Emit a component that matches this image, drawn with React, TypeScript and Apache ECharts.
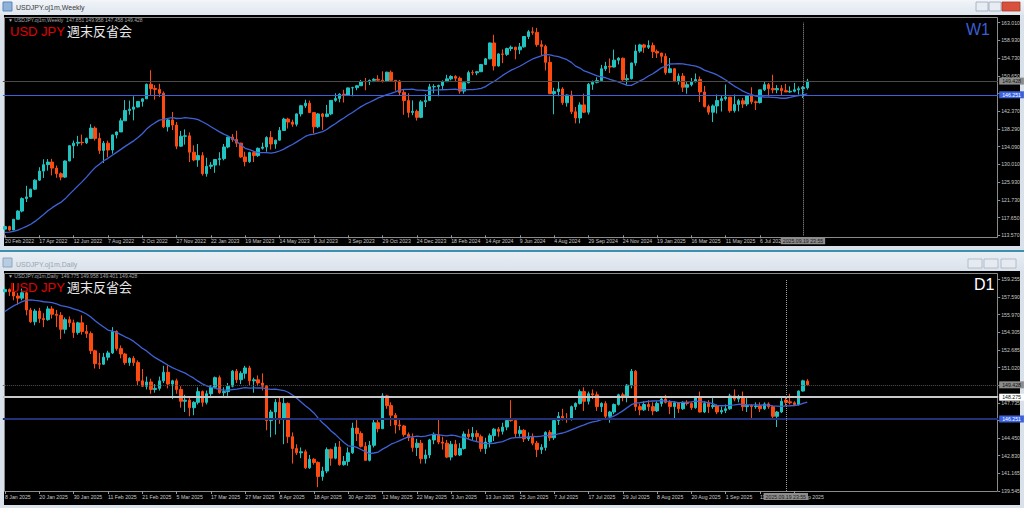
import React, { useEffect, useRef } from "react";
import * as echarts from "echarts";

// ---------- DATA ----------
// Weekly USDJPY candles [open, high, low, close], from week of 20 Feb 2022
const weeklyOHLC: number[][] = [
  [115.0,115.8,114.4,115.6],[115.6,115.8,114.65,114.8],[114.8,117.3,114.8,117.3],[117.3,119.4,117.3,119.2],
  [119.2,122.4,118.9,122.1],[122.1,125.1,121.3,122.5],[122.5,124.4,122.4,124.3],[124.3,126.6,124.1,126.4],
  [126.4,129.4,126.2,128.5],[128.5,131.25,126.9,130.0],[130.0,131.3,128.6,130.6],[130.6,131.35,127.5,129.2],
  [129.2,129.8,126.95,127.9],[127.9,128.2,126.35,127.1],[127.1,131.0,126.9,130.85],[130.85,134.55,130.8,134.4],
  [134.4,135.6,131.5,135.0],[135.0,136.7,134.3,135.2],[135.2,137.0,134.5,135.1],[135.1,136.3,134.8,136.1],
  [136.1,139.4,136.0,138.5],[138.5,138.9,135.6,136.1],[136.1,137.4,132.5,133.3],[133.3,135.5,130.4,135.0],
  [135.0,135.6,131.7,133.4],[133.4,137.0,132.55,136.9],[136.9,137.7,136.1,137.6],[137.6,140.8,137.6,140.2],
  [140.2,145.0,140.2,142.6],[142.6,144.9,141.6,142.9],[142.9,145.9,140.3,143.4],[143.4,144.8,143.3,144.7],
  [144.7,145.4,143.5,145.3],[145.3,148.85,145.3,148.7],[148.7,151.95,146.2,147.7],[147.7,148.5,145.1,147.5],
  [147.5,148.8,145.7,146.6],[146.6,147.0,138.5,138.8],[138.8,140.8,137.7,140.4],[140.4,142.25,138.05,139.2],
  [139.2,139.9,133.6,134.3],[134.3,137.85,134.1,136.6],[136.6,138.2,134.65,136.7],[136.7,137.5,130.6,132.9],
  [132.9,134.5,130.8,131.1],[131.1,134.8,129.5,132.1],[132.1,132.9,127.45,127.9],[127.9,131.6,127.2,129.6],
  [129.6,130.6,129.0,129.9],[129.9,131.2,128.1,131.2],[131.2,132.9,129.8,131.4],[131.4,134.8,131.0,134.1],
  [134.1,136.5,133.8,136.4],[136.4,137.1,135.3,135.85],[135.85,137.9,134.1,135.0],[135.0,135.1,131.6,131.8],
  [131.8,133.0,129.6,130.7],[130.7,133.0,130.4,132.8],[132.8,133.2,130.6,132.1],[132.1,134.0,131.8,133.8],
  [133.8,135.1,133.5,134.1],[134.1,136.6,133.0,136.3],[136.3,137.8,133.5,134.8],[134.8,135.8,133.7,135.7],
  [135.7,138.75,135.6,137.95],[137.95,140.9,137.9,140.6],[140.6,140.9,138.4,139.9],[139.9,140.45,138.8,139.4],
  [139.4,141.9,138.9,141.8],[141.8,143.9,141.2,143.7],[143.7,145.1,143.2,144.3],[144.3,144.9,142.0,142.1],
  [142.1,142.2,137.25,138.8],[138.8,142.0,138.5,141.8],[141.8,142.0,138.1,141.2],[141.2,143.9,141.0,141.8],
  [141.8,145.0,141.5,144.95],[144.95,146.6,144.6,145.4],[145.4,146.6,144.5,146.4],[146.4,147.4,144.45,146.2],
  [146.2,147.9,146.1,147.85],[147.85,148.1,145.9,147.9],[147.9,148.5,147.3,148.35],[148.35,149.7,148.3,149.35],
  [149.35,150.16,147.3,149.3],[149.3,149.8,148.5,149.6],[149.6,150.1,149.2,149.85],[149.85,150.78,149.3,149.65],
  [149.65,151.7,149.1,149.4],[149.4,151.6,149.2,151.5],[151.5,151.9,149.2,149.6],[149.6,149.7,147.2,149.45],
  [149.45,149.7,146.2,146.8],[146.8,147.5,141.6,144.9],[144.9,146.6,140.95,142.15],[142.15,144.95,141.5,142.4],
  [142.4,142.8,140.25,141.0],[141.0,145.0,140.8,144.6],[144.6,146.4,143.4,144.9],[144.9,148.8,144.9,148.1],
  [148.1,148.7,146.6,148.15],[148.15,148.6,145.9,148.4],[148.4,149.6,147.6,149.3],[149.3,150.9,149.2,149.95],
  [149.95,150.8,149.6,150.5],[150.5,150.8,149.2,150.1],[150.1,150.5,146.5,147.1],[147.1,149.2,146.5,149.05],
  [149.05,151.85,148.9,151.4],[151.4,151.97,150.8,151.35],[151.35,151.8,150.8,151.6],[151.6,153.4,151.6,153.3],
  [153.3,154.8,153.3,154.6],[154.6,158.4,154.5,158.3],[158.3,160.2,151.9,152.95],[152.95,155.9,152.8,155.75],
  [155.75,156.8,153.6,155.65],[155.65,157.2,155.3,157.0],[157.0,157.7,156.4,157.3],[157.3,157.4,154.5,156.7],
  [156.7,158.3,155.7,157.4],[157.4,159.9,157.2,159.8],[159.8,161.3,159.2,160.9],[160.9,161.95,160.2,160.75],
  [160.75,161.8,157.4,157.9],[157.9,158.9,155.4,157.5],[157.5,157.9,151.9,153.8],[153.8,155.2,146.4,146.5],
  [146.5,147.9,141.7,147.0],[147.0,149.4,145.9,147.6],[147.6,148.0,143.9,144.4],[144.4,146.3,143.5,146.2],
  [146.2,147.2,141.75,142.3],[142.3,143.4,139.6,140.85],[140.85,144.5,139.6,143.9],[143.9,146.5,142.0,142.2],
  [142.2,149.0,141.65,148.7],[148.7,149.55,147.4,149.15],[149.15,150.3,148.9,149.55],[149.55,153.2,149.5,152.3],
  [152.3,153.9,151.8,152.9],[152.9,154.7,151.3,152.7],[152.7,156.75,152.6,154.3],[154.3,155.0,153.3,154.75],
  [154.75,154.9,149.5,149.75],[149.75,151.0,148.6,150.0],[150.0,153.7,149.8,153.65],[153.65,157.9,153.0,156.4],
  [156.4,158.1,156.0,157.85],[157.85,158.1,156.0,157.3],[157.3,158.9,156.9,157.7],[157.7,158.4,154.8,156.3],
  [156.3,156.75,154.8,155.95],[155.95,156.0,153.7,155.2],[155.2,155.9,150.9,151.4],[151.4,154.8,151.3,152.3],
  [152.3,152.4,149.3,149.3],[149.3,151.2,148.6,150.6],[150.6,151.3,146.9,148.0],[148.0,149.2,146.5,148.6],
  [148.6,150.15,148.2,149.3],[149.3,151.2,149.1,149.8],[149.8,150.5,144.55,146.9],[146.9,148.3,143.3,143.5],
  [143.5,143.95,141.6,142.2],[142.2,144.0,139.9,143.65],[143.65,146.3,141.9,144.9],[144.9,146.2,142.35,145.35],
  [145.35,148.65,144.9,145.7],[145.7,145.7,142.1,142.55],[142.55,146.3,142.1,144.0],[144.0,145.3,142.4,144.85],
  [144.85,145.5,143.2,144.1],[144.1,146.2,143.6,146.1],[146.1,148.0,144.05,144.6],[144.6,144.9,142.7,144.45],
  [144.45,147.4,144.2,147.4],[147.4,149.2,147.1,148.6],[148.6,149.0,145.85,147.7],[147.7,150.9,146.6,147.4],
  [147.4,148.5,146.6,147.7],[147.7,148.5,146.2,147.2],[147.2,148.8,146.9,146.9],[146.9,148.2,146.7,147.05],
  [147.05,149.0,146.8,147.4],[147.4,148.2,146.3,147.65],[147.65,148.3,145.5,147.95],[147.851,149.958,147.458,149.428],
];
// 19 weekly closes before the first visible week (MA warm-up)
const weeklyPriorCloses = [114.2,113.5,113.5,113.4,114.0,114.0,113.4,112.8,113.4,113.7,114.4,115.1,115.6,114.2,113.7,115.25,115.2,115.45,115.0];
const weeklyMAPeriod = 20;

// Daily USDJPY candles [open, high, low, close], from 8 Jan 2025
const dailyOHLC: number[][] = [
  [158.1,158.55,157.8,158.3],[158.3,158.4,157.7,158.1],[158.1,158.9,157.3,157.7],[157.7,158.0,156.9,157.5],
  [157.5,158.4,157.3,158.0],[158.0,158.1,155.9,156.4],[156.4,156.6,155.2,155.3],[155.3,156.5,154.97,156.3],
  [156.3,156.6,155.2,155.6],[155.6,156.1,154.8,155.5],[155.5,156.75,155.4,156.5],[156.5,156.75,155.6,156.0],
  [156.0,156.4,154.8,155.9],[155.9,156.2,153.7,154.6],[154.6,155.7,154.2,155.5],[155.5,155.8,154.8,155.2],
  [155.2,155.5,153.8,154.3],[154.3,155.3,154.1,155.2],[155.2,155.9,154.1,154.4],[154.4,155.0,153.8,154.2],
  [154.2,154.4,152.3,152.6],[152.6,152.7,150.95,151.4],[151.4,152.4,150.9,151.35],[151.35,152.4,151.3,152.0],
  [152.0,152.6,151.7,152.4],[152.4,154.8,152.3,154.4],[154.4,154.5,152.6,152.8],[152.8,153.1,151.9,152.3],
  [152.3,152.4,151.3,151.5],[151.5,152.0,151.2,151.9],[151.9,152.1,151.2,151.5],[151.5,151.7,149.4,149.8],
  [149.8,150.9,149.25,149.3],[149.3,150.2,149.0,149.7],[149.7,150.0,148.6,149.0],[149.0,149.5,148.7,149.1],
  [149.1,150.2,148.9,149.8],[149.8,151.2,149.6,150.6],[150.6,151.3,149.1,149.5],[149.5,149.9,148.1,149.8],
  [149.8,150.0,148.6,149.0],[149.0,149.3,147.3,147.9],[147.9,148.5,146.9,148.0],[148.0,148.2,146.5,147.3],
  [147.3,147.9,146.6,147.8],[147.8,149.2,147.6,148.8],[148.8,148.9,147.4,147.8],[147.8,148.9,147.6,148.6],
  [148.6,149.4,148.2,149.2],[149.2,150.2,149.1,150.1],[150.1,150.3,148.6,148.7],[148.7,149.2,148.2,148.8],
  [148.8,149.6,148.4,149.3],[149.3,150.8,149.2,150.7],[150.7,150.9,149.6,149.9],[149.9,150.7,149.5,150.5],
  [150.5,151.2,150.0,151.0],[151.0,151.2,149.4,149.8],[149.8,150.1,148.7,149.9],[149.9,150.3,149.3,149.6],
  [149.6,150.5,148.9,149.3],[149.3,149.4,145.2,146.1],[146.1,147.1,144.55,146.9],[146.9,148.1,144.8,147.8],
  [147.8,148.3,145.8,146.3],[146.3,148.3,143.9,147.7],[147.7,147.8,144.0,144.6],[144.6,145.0,142.1,143.5],
  [143.5,143.9,142.9,143.1],[143.1,143.6,142.6,143.2],[143.2,143.4,141.6,141.7],[141.7,142.9,141.6,142.5],
  [142.5,142.6,142.0,142.2],[142.2,142.3,139.9,140.9],[140.9,141.8,140.5,141.4],[141.4,143.6,141.2,143.4],
  [143.4,143.5,141.9,142.6],[142.6,144.0,142.5,143.65],[143.65,144.2,141.9,142.0],[142.0,142.8,141.9,142.3],
  [142.3,143.6,141.9,143.1],[143.1,145.9,143.0,145.4],[145.4,146.3,144.2,144.9],[144.9,145.1,143.6,143.7],
  [143.7,144.1,142.35,142.4],[142.4,144.2,142.3,143.8],[143.8,146.2,143.6,145.9],[145.9,146.2,145.0,145.35],
  [145.35,148.65,145.3,148.4],[148.4,148.5,147.2,147.5],[147.5,147.8,145.6,146.6],[146.6,146.8,144.9,145.7],
  [145.7,146.2,145.2,145.6],[145.6,145.7,144.6,144.8],[144.8,145.0,144.2,144.5],[144.5,144.9,143.2,143.6],
  [143.6,144.4,142.8,144.0],[144.0,144.3,142.1,142.55],[142.55,143.4,142.1,142.9],[142.9,144.4,142.6,144.3],
  [144.3,145.0,143.9,144.8],[144.8,146.3,143.9,144.1],[144.1,144.6,143.4,144.0],[144.0,144.3,142.6,142.7],
  [142.7,144.2,142.4,143.9],[143.9,144.3,142.8,142.9],[142.9,144.0,142.8,143.5],[143.5,145.1,143.4,144.85],
  [144.85,145.3,144.4,144.6],[144.6,145.5,144.3,144.9],[144.9,145.2,144.2,144.6],[144.6,144.8,143.2,143.5],
  [143.5,144.5,143.0,144.1],[144.1,144.9,143.6,144.7],[144.7,145.4,144.2,145.3],[145.3,145.5,144.6,145.1],
  [145.1,145.9,144.8,145.5],[145.5,146.2,145.2,146.1],[146.2,148.0,146.0,146.1],[146.1,146.2,144.5,144.9],
  [144.9,145.6,144.6,145.2],[145.2,145.3,144.1,144.4],[144.4,145.0,144.2,144.6],[144.6,144.9,143.8,144.0],
  [144.0,144.2,142.7,143.4],[143.4,143.9,143.0,143.6],[143.6,145.1,143.3,145.0],[145.0,145.2,144.2,144.5],
  [144.5,146.2,144.3,146.1],[146.1,146.9,145.7,146.5],[146.5,147.2,146.1,146.3],[146.3,146.8,145.9,146.2],
  [146.2,147.5,146.1,147.4],[147.4,147.8,147.1,147.7],[147.7,149.0,147.6,148.8],[148.8,149.2,147.0,147.9],
  [147.9,148.8,147.6,148.6],[148.6,149.0,148.1,148.5],[148.5,148.8,147.0,147.4],[147.4,147.8,146.9,147.7],
  [147.7,147.9,146.2,146.5],[146.5,147.0,145.9,146.9],[146.9,147.7,146.7,147.6],[147.6,148.6,147.5,148.5],
  [148.5,148.7,147.9,148.4],[148.4,149.5,147.8,149.4],[149.4,150.9,149.1,150.7],[150.7,150.8,147.0,147.4],
  [147.4,147.7,146.6,147.1],[147.1,147.9,147.0,147.6],[147.6,148.0,147.0,147.4],[147.4,147.8,146.6,147.0],
  [147.0,147.9,146.9,147.7],[147.7,148.2,147.4,148.1],[148.1,148.5,147.7,147.8],[147.8,148.0,146.7,147.4],
  [147.4,147.9,146.3,147.75],[147.75,147.8,146.8,147.2],[147.2,147.9,147.1,147.8],[147.8,148.0,147.5,147.7],
  [147.7,147.8,147.1,147.3],[147.3,148.4,147.2,148.3],[148.3,148.8,146.85,146.9],[146.9,147.9,146.8,147.7],
  [147.7,148.0,146.8,147.4],[147.4,148.2,147.2,147.5],[147.5,147.6,146.7,146.9],[146.9,147.4,146.7,147.05],
  [147.05,147.6,146.8,147.2],[147.2,148.6,147.1,148.4],[148.4,149.0,147.9,148.1],[148.1,148.5,147.8,148.2],
  [148.2,148.8,147.0,147.4],[147.4,148.2,146.9,147.5],[147.5,147.6,146.3,147.4],[147.4,147.8,147.2,147.45],
  [147.45,147.8,146.9,147.2],[147.2,147.8,147.1,147.65],[147.65,147.8,147.2,147.4],[147.4,147.5,146.3,146.5],
  [146.5,147.0,145.5,146.9],[146.9,148.3,146.8,147.9],[148.0,148.3,147.5,147.8],[147.85,148.6,147.6,147.75],
  [147.75,147.9,147.5,147.6],[147.6,148.9,147.5,148.85],[148.85,149.9,148.8,149.8],[149.775,149.958,149.401,149.428],
];
// 19 daily closes before 8 Jan 2025 (MA warm-up)
const dailyPriorCloses = [152.5,152.6,153.65,154.15,153.5,154.7,157.4,156.4,157.2,157.2,157.1,157.85,157.9,156.9,157.2,157.3,157.45,157.65,158.05];
const dailyMAPeriod = 20;

const weeklyTickLabels = ["20 Feb 2022","17 Apr 2022","12 Jun 2022","7 Aug 2022","2 Oct 2022","27 Nov 2022","22 Jan 2023","19 Mar 2023","14 May 2023","9 Jul 2023","3 Sep 2023","29 Oct 2023","24 Dec 2023","18 Feb 2024","14 Apr 2024","9 Jun 2024","4 Aug 2024","29 Sep 2024","24 Nov 2024","19 Jan 2025","16 Mar 2025","11 May 2025","6 Jul 2025"];
const dailyTickLabels = ["8 Jan 2025","20 Jan 2025","30 Jan 2025","11 Feb 2025","21 Feb 2025","5 Mar 2025","17 Mar 2025","27 Mar 2025","8 Apr 2025","18 Apr 2025","30 Apr 2025","12 May 2025","22 May 2025","3 Jun 2025","13 Jun 2025","25 Jun 2025","7 Jul 2025","17 Jul 2025","29 Jul 2025","8 Aug 2025","20 Aug 2025","1 Sep 2025","11 Sep 2025","23 Sep 2025"];

// price scale labels, bottom to top
const weeklyPriceTicks = ["113.570","117.650","121.730","125.930","130.010","134.090","138.290","142.370","146.450","150.650","154.730","158.930","163.010"];
const dailyPriceTicks = ["139.545","141.165","142.830","144.450","146.070","147.735","149.400","151.020","152.685","154.305","155.970","157.590","159.255"];
const weeklyRange = [113.57, 163.01];
const dailyRange = [139.545, 159.255];

const bidPrice = 149.428;
const levelPrice = 146.251;
const dailyLevel2 = 148.275;
const weeklyVLineIndex = 186;
const dailyVLineIndex = 182;
const vLineLabel = "2025.09.19 23:55";
const weeklyHeader = "147.851 149.958 147.458 149.428";
const dailyHeader = "149.775 149.958 149.401 149.428";

const SLOTS = 232;

// ---------- helpers ----------
function sma(prior: number[], closes: number[], period: number) {
  const all = prior.concat(closes);
  const off = prior.length;
  return closes.map((_, i) => {
    const end = off + i;
    let s = 0;
    for (let k = end - period + 1; k <= end; k++) s += all[k];
    return +(s / period).toFixed(3);
  });
}

const BULL = "#1fc3c0";
const BEAR = "#ff4a0f";
const MA = "#3f62d8";
const FONT = "'Liberation Sans', Arial, sans-serif";
const AXFS = 5.2;

export default function App() {
  const ref = useRef<HTMLDivElement>(null);
  useEffect(() => {
    if (!ref.current) return;
    const chart = echarts.init(ref.current, undefined, { renderer: "svg" });
    const slots = Array.from({ length: SLOTS }, (_, i) => String(i));
    const wMA = sma(weeklyPriorCloses, weeklyOHLC.map((r) => r[3]), weeklyMAPeriod);
    const dMA = sma(dailyPriorCloses, dailyOHLC.map((r) => r[3]), dailyMAPeriod);

    const xAxisFor = (grid: number, labels: string[]) => ({
      type: "category",
      gridIndex: grid,
      data: slots,
      boundaryGap: true,
      axisLine: { show: false },
      axisTick: {
        show: true,
        alignWithLabel: true,
        interval: (i: number) => i % 8 === 0 && i / 8 < labels.length,
        length: 3,
        lineStyle: { color: "#9a9a9a" },
      },
      axisLabel: {
        interval: (i: number) => i % 8 === 0 && i / 8 < labels.length,
        formatter: (_v: string, i: number) => labels[i / 8] ?? "",
        align: "left",
        margin: 3,
        fontSize: AXFS,
        color: "#c8c8c8",
        fontFamily: FONT,
      },
      splitLine: { show: false },
    });

    const priceAxis = (grid: number, range: number[]) => ({
      type: "value",
      gridIndex: grid,
      min: range[0],
      max: range[1],
      show: false,
      scale: true,
    });
    const labelAxis = (grid: number, ticks: string[]) => ({
      type: "value",
      gridIndex: grid,
      position: "right",
      min: 0,
      max: ticks.length - 1,
      interval: 1,
      axisLine: { show: false },
      axisTick: { show: true, length: 2, lineStyle: { color: "#9a9a9a" } },
      splitLine: { show: false },
      axisLabel: {
        formatter: (v: number) => ticks[Math.round(v)] ?? "",
        margin: 3,
        fontSize: AXFS,
        color: "#c8c8c8",
        fontFamily: FONT,
      },
    });

    const boxLabel = (price: number, bg: string, fg: string) => ({
      show: true,
      position: "end",
      distance: 1,
      formatter: () => price.toFixed(3),
      backgroundColor: bg,
      color: fg,
      fontSize: AXFS,
      fontFamily: FONT,
      padding: [1, 3, 1, 3],
    });
    const vLabel = {
      show: true,
      position: "start",
      distance: 2,
      formatter: () => vLineLabel,
      backgroundColor: "#8c8c8c",
      color: "#1a1a1a",
      fontSize: AXFS,
      fontFamily: FONT,
      padding: [1, 2, 1, 2],
    };

    const candleStyle = {
      color: BULL,
      color0: BEAR,
      borderColor: BULL,
      borderColor0: BEAR,
      borderWidth: 1,
    };

    const option: any = {
      animation: false,
      backgroundColor: "#d9e1ea",
      grid: [
        { left: 2.86, width: 995.3, top: 22.7, height: 212.6, show: false },
        { left: 2.86, width: 995.3, top: 279.3, height: 211.7, show: false },
      ],
      xAxis: [xAxisFor(0, weeklyTickLabels), xAxisFor(1, dailyTickLabels)],
      yAxis: [
        priceAxis(0, weeklyRange),
        priceAxis(1, dailyRange),
        labelAxis(0, weeklyPriceTicks),
        labelAxis(1, dailyPriceTicks),
      ],
      series: [
        {
          type: "candlestick",
          xAxisIndex: 0,
          yAxisIndex: 0,
          barWidth: 3,
          data: weeklyOHLC.map(([o, h, l, c]) => [o, c, l, h]),
          itemStyle: candleStyle,
          z: 3,
          markLine: {
            silent: true,
            symbol: ["none", "none"],
            animation: false,
            data: [
              { yAxis: bidPrice, lineStyle: { color: "#4a4a4a", type: "solid", width: 1 }, label: boxLabel(bidPrice, "#8c8c8c", "#111") },
              { yAxis: levelPrice, lineStyle: { color: "#3b62dc", type: "solid", width: 1 }, label: boxLabel(levelPrice, "#3b62dc", "#ffffff") },
              { xAxis: String(weeklyVLineIndex), lineStyle: { color: "#a0a0a0", type: "dotted", width: 1 }, label: vLabel },
            ],
          },
        },
        {
          type: "line",
          xAxisIndex: 0,
          yAxisIndex: 0,
          data: wMA,
          showSymbol: false,
          lineStyle: { color: MA, width: 1.3 },
          z: 4,
        },
        {
          type: "candlestick",
          xAxisIndex: 1,
          yAxisIndex: 1,
          barWidth: 3,
          data: dailyOHLC.map(([o, h, l, c]) => [o, c, l, h]),
          itemStyle: candleStyle,
          z: 3,
          markLine: {
            silent: true,
            symbol: ["none", "none"],
            animation: false,
            data: [
              { yAxis: bidPrice, lineStyle: { color: "#505050", type: "dotted", width: 1 }, label: boxLabel(bidPrice, "#8c8c8c", "#111") },
              { yAxis: dailyLevel2, lineStyle: { color: "#c8c8c8", type: "solid", width: 2 }, label: boxLabel(dailyLevel2, "#ffffff", "#111") },
              { yAxis: levelPrice, lineStyle: { color: "#23307a", type: "solid", width: 2 }, label: boxLabel(levelPrice, "#3b62dc", "#ffffff") },
              { xAxis: String(dailyVLineIndex), lineStyle: { color: "#a0a0a0", type: "dotted", width: 1 }, label: vLabel },
            ],
          },
        },
        {
          type: "line",
          xAxisIndex: 1,
          yAxisIndex: 1,
          data: dMA,
          showSymbol: false,
          lineStyle: { color: MA, width: 1.3 },
          z: 4,
        },
      ],
      graphic: [
        // window chrome
        { type: "rect", z: -10, shape: { x: 0, y: 0, width: 1024, height: 15 }, style: { fill: new echarts.graphic.LinearGradient(0, 0, 0, 1, [{ offset: 0, color: "#f2f5f9" }, { offset: 1, color: "#dfe6ee" }]) } },
        { type: "rect", z: -10, shape: { x: 3, y: 2, width: 9, height: 9 }, style: { fill: "#8fb2d8", stroke: "#5a86b8", lineWidth: 1 } },
        { type: "text", z: 10, x: 16, y: 7.5, style: { text: "USDJPY.oj1m,Weekly", fill: "#3a3a3a", fontSize: 7, fontFamily: FONT, verticalAlign: "middle" } },
        { type: "rect", z: -10, shape: { x: 976, y: 2, width: 12, height: 9 }, style: { fill: "#e8edf3", stroke: "#9aa8b8", lineWidth: 0.8 } },
        { type: "rect", z: -10, shape: { x: 989, y: 2, width: 12, height: 9 }, style: { fill: "#e8edf3", stroke: "#9aa8b8", lineWidth: 0.8 } },
        { type: "rect", z: -10, shape: { x: 1002, y: 2, width: 18, height: 9 }, style: { fill: "#d9513c", stroke: "#a33a2a", lineWidth: 0.8 } },
        { type: "rect", z: -10, shape: { x: 4, y: 15, width: 1016, height: 231 }, style: { fill: "#000000" } },
        { type: "rect", z: -10, shape: { x: 0, y: 250, width: 1024, height: 2 }, style: { fill: "#3d8fae" } },
        { type: "rect", z: -10, shape: { x: 0, y: 252, width: 1024, height: 19 }, style: { fill: new echarts.graphic.LinearGradient(0, 0, 0, 1, [{ offset: 0, color: "#e9eef4" }, { offset: 1, color: "#dae2eb" }]) } },
        { type: "rect", z: -10, shape: { x: 3, y: 258, width: 9, height: 9 }, style: { fill: "#b9cce0", stroke: "#8aa6c4", lineWidth: 1 } },
        { type: "text", z: 10, x: 16, y: 264, style: { text: "USDJPY.oj1m,Daily", fill: "#9aa4ae", fontSize: 7, fontFamily: FONT, verticalAlign: "middle" } },
        { type: "rect", z: -10, shape: { x: 968, y: 259, width: 14, height: 9 }, style: { fill: "#e6ebf1", stroke: "#a6b2c0", lineWidth: 0.8 } },
        { type: "rect", z: -10, shape: { x: 984, y: 259, width: 14, height: 9 }, style: { fill: "#e6ebf1", stroke: "#a6b2c0", lineWidth: 0.8 } },
        { type: "rect", z: -10, shape: { x: 1001, y: 259, width: 15, height: 9 }, style: { fill: "#e6ebf1", stroke: "#a6b2c0", lineWidth: 0.8 } },
        { type: "rect", z: -10, shape: { x: 4, y: 271, width: 1016, height: 234 }, style: { fill: "#000000" } },
        // chart frames
        { type: "rect", z: -5, shape: { x: 4.5, y: 17.5, width: 993, height: 220 }, style: { fill: "none", stroke: "#8a8a8a", lineWidth: 1 } },
        { type: "rect", z: -5, shape: { x: 4.5, y: 273.5, width: 993, height: 218 }, style: { fill: "none", stroke: "#8a8a8a", lineWidth: 1 } },
        // headers
        { type: "text", z: 10, x: 8, y: 19.5, style: { text: "▼ USDJPY.oj1m,Weekly  " + weeklyHeader, fill: "#a8a8a8", fontSize: 5, fontFamily: FONT, verticalAlign: "middle" } },
        { type: "text", z: 10, x: 8, y: 275.5, style: { text: "▼ USDJPY.oj1m,Daily  " + dailyHeader, fill: "#a8a8a8", fontSize: 5, fontFamily: FONT, verticalAlign: "middle" } },
        { type: "text", z: 10, x: 10, y: 31, style: { text: "USD JPY", fill: "#e00000", fontSize: 13, fontFamily: FONT, verticalAlign: "middle" } },
        { type: "text", z: 10, x: 67, y: 30, style: { text: "週末反省会", fill: "#e8e8e8", fontSize: 13, fontFamily: "'Noto Sans CJK JP', sans-serif", verticalAlign: "middle" } },
        { type: "text", z: 10, x: 10, y: 287, style: { text: "USD JPY", fill: "#e00000", fontSize: 13, fontFamily: FONT, verticalAlign: "middle" } },
        { type: "text", z: 10, x: 67, y: 286.5, style: { text: "週末反省会", fill: "#e8e8e8", fontSize: 13, fontFamily: "'Noto Sans CJK JP', sans-serif", verticalAlign: "middle" } },
        { type: "text", z: 10, x: 966, y: 29, style: { text: "W1", fill: "#3a5fd0", fontSize: 16, fontFamily: FONT, verticalAlign: "middle" } },
        { type: "text", z: 10, x: 974, y: 284, style: { text: "D1", fill: "#ffffff", fontSize: 16, fontFamily: FONT, verticalAlign: "middle" } },
      ],
    };
    chart.setOption(option);
    return () => chart.dispose();
  }, []);
  return <div ref={ref} style={{ position: "fixed", left: 0, top: 0, width: 1024, height: 508 }} />;
}
